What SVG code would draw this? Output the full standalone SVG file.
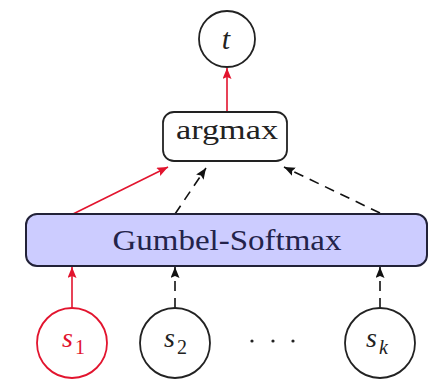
<svg xmlns="http://www.w3.org/2000/svg" width="430" height="382" viewBox="0 0 430 382">
  <defs>
    <marker id="tipBlack" markerUnits="userSpaceOnUse" markerWidth="12" markerHeight="10" refX="11" refY="4.5" orient="auto">
      <path d="M0,0 L11,4.5 L0,9 L2,4.5 z" fill="#111"/>
    </marker>
    <marker id="tipRed" markerUnits="userSpaceOnUse" markerWidth="12" markerHeight="10" refX="11" refY="4.5" orient="auto">
      <path d="M0,0 L11,4.5 L0,9 L2,4.5 z" fill="#e2142e"/>
    </marker>
  </defs>
  <style>
    .node { fill: #ffffff; stroke: #222; stroke-width: 1.8; }
    .sel { fill: #ffffff; stroke: #e2142e; stroke-width: 1.8; }
    .box { fill: #ffffff; stroke: #222; stroke-width: 1.8; }
    .gs { fill: #ccccff; stroke: #222238; stroke-width: 2; }
    .lbl { font-family: "Liberation Serif", "DejaVu Serif", serif; fill: #222; }
    .math { font-family: "Liberation Serif", "DejaVu Serif", serif; font-style: italic; fill: #222; }
    .red { stroke: #e2142e; stroke-width: 1.6; fill: none; marker-end: url(#tipRed); }
    .dash { stroke: #111; stroke-width: 1.6; fill: none; stroke-dasharray: 10 7; marker-end: url(#tipBlack); }
  </style>

  <g id="connectors">
    <line class="red" x1="227" y1="112" x2="227" y2="68"/>
    <line class="red" x1="73" y1="214" x2="168" y2="167"/>
    <line class="dash" x1="175" y1="214" x2="206" y2="168"/>
    <line class="dash" x1="380" y1="213" x2="284" y2="167"/>
    <line class="red" x1="72" y1="308" x2="72" y2="267"/>
    <line class="dash" x1="175" y1="308" x2="175" y2="267" stroke-dasharray="12 13"/>
    <line class="dash" x1="380" y1="308" x2="380" y2="267" stroke-dasharray="12 13"/>
  </g>

  <g id="node-t">
    <circle class="node" cx="227" cy="39" r="28"/>
    <text class="math" x="226" y="49" font-size="30" text-anchor="middle">t</text>
  </g>

  <g id="node-argmax">
    <rect class="box" x="163" y="112" width="124" height="49" rx="11"/>
    <text class="lbl" x="227" y="139" font-size="28" text-anchor="middle" textLength="102" lengthAdjust="spacingAndGlyphs">argmax</text>
  </g>

  <g id="node-gumbel">
    <rect class="gs" x="26" y="214" width="401" height="52" rx="11"/>
    <text class="lbl" x="227" y="250" font-size="30" text-anchor="middle" fill="#23234a" style="fill:#23234a" textLength="229" lengthAdjust="spacingAndGlyphs">Gumbel-Softmax</text>
  </g>

  <g id="node-s1">
    <circle class="sel" cx="72" cy="343" r="35"/>
    <text class="math" x="62" y="347" font-size="28" style="fill:#e2142e">s</text>
    <text class="lbl" x="75" y="354" font-size="20" style="fill:#e2142e">1</text>
  </g>

  <g id="node-s2">
    <circle class="node" cx="175" cy="343" r="35"/>
    <text class="math" x="164" y="347" font-size="28">s</text>
    <text class="lbl" x="177" y="354" font-size="20">2</text>
  </g>

  <g id="ellipsis">
    <circle cx="252" cy="341" r="1.6" fill="#222"/>
    <circle cx="273" cy="341" r="1.6" fill="#222"/>
    <circle cx="293" cy="341" r="1.6" fill="#222"/>
  </g>

  <g id="node-sk">
    <circle class="node" cx="380" cy="343" r="35"/>
    <text class="math" x="366" y="347" font-size="28">s</text>
    <text class="math" x="379" y="354" font-size="20">k</text>
  </g>
</svg>
